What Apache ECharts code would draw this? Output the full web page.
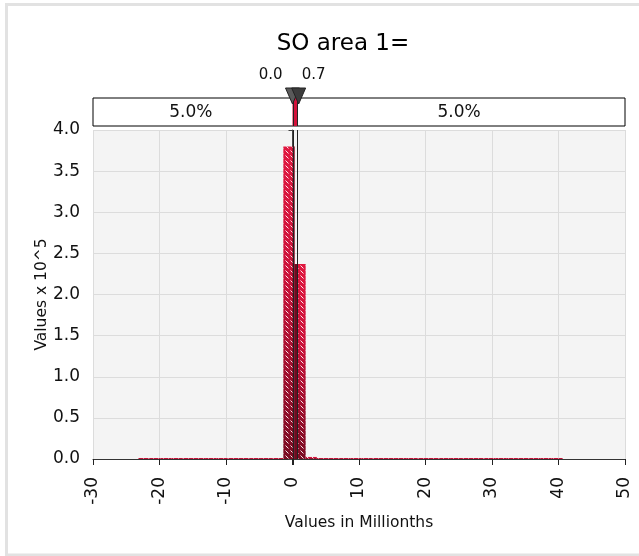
<!DOCTYPE html>
<html>
<head>
<meta charset="utf-8">
<script src="https://cdn.jsdelivr.net/npm/echarts@6/dist/echarts.min.js"></script>
<style>html,body{margin:0;padding:0;background:#fff;}#c{width:639px;height:556px;}</style>
</head>
<body>
<div id="c"></div>
<script>
// ---- data ----
const titleText = 'SO area 1=';
const binStart = -23.22;       // left edge of first bin (millionths)
const binWidth = 1.68;         // bin width (millionths)
const counts = [0.012, 0.012, 0.012, 0.012, 0.012, 0.012, 0.012, 0.012, 0.012, 0.012,
                0.012, 0.012, 0.012, 3.80, 2.37, 0.025, 0.012, 0.012, 0.012, 0.012,
                0.012, 0.012, 0.012, 0.012, 0.012, 0.012, 0.012, 0.012, 0.012, 0.012,
                0.012, 0.012, 0.012, 0.012, 0.012, 0.012, 0.012, 0.012];
const markerValues = [0.0, 0.7];
const markerLabels = ['0.0', '0.7'];
const bandLabels = ['5.0%', '5.0%'];
const xMin = -30, xMax = 50, xInterval = 10;
const yMin = 0, yMax = 4, yInterval = 0.5;

const FONT = "'DejaVu Sans', Verdana, sans-serif";

const bins = counts.map((c, i) => [binStart + i * binWidth, binStart + (i + 1) * binWidth, c]);

// hatch pattern
const pc = document.createElement('canvas');
pc.width = 5; pc.height = 5;
const g = pc.getContext('2d');
g.strokeStyle = 'rgba(255,255,255,0.9)';
g.lineWidth = 1;
g.beginPath(); g.moveTo(0.5, 0.5); g.lineTo(3.5, 3.5); g.stroke();

const chart = echarts.init(document.getElementById('c'), null, {renderer: 'canvas'});

const option = {
  animation: false,
  backgroundColor: '#ffffff',
  title: {
    text: titleText, left: 338, top: 28, textAlign: 'center',
    textStyle: {fontFamily: FONT, fontSize: 23, fontWeight: 'normal', color: '#000'}
  },
  graphic: [{
    type: 'rect', shape: {x: 6.5, y: 4.5, width: 700, height: 550.5},
    style: {fill: 'none', stroke: '#e2e2e2', lineWidth: 3}, silent: true, z: -10
  }],
  grid: [
    {left: 93, right: 14, top: 130, bottom: 97, show: true, backgroundColor: '#f4f4f4', borderWidth: 0},
    {left: 93, right: 14, top: 98, height: 28, show: true, backgroundColor: '#ffffff', borderColor: '#000', borderWidth: 1}
  ],
  xAxis: [
    {
      type: 'value', gridIndex: 0, min: xMin, max: xMax, interval: xInterval,
      name: 'Values in Millionths', nameLocation: 'middle', nameGap: 56, nameMoveOverlap: false,
      nameTextStyle: {fontFamily: FONT, fontSize: 15.5, color: '#111'},
      axisLine: {show: true, onZero: false, lineStyle: {color: '#333', width: 1}},
      axisTick: {show: true, length: 6, lineStyle: {color: '#222'}},
      axisLabel: {rotate: 90, fontFamily: FONT, fontSize: 17, color: '#111', margin: 18},
      splitLine: {show: true, lineStyle: {color: '#dcdcdc', width: 1}}
    },
    {
      type: 'value', gridIndex: 1, min: xMin, max: xMax, show: false
    }
  ],
  yAxis: [
    {
      type: 'value', gridIndex: 0, min: yMin, max: yMax, interval: yInterval,
      name: 'Values x 10^5', nameLocation: 'middle', nameGap: 43, nameMoveOverlap: false,
      nameTextStyle: {fontFamily: FONT, fontSize: 15.5, color: '#111'},
      axisLine: {show: true, lineStyle: {color: '#444', width: 1}},
      axisTick: {show: true, length: 4, lineStyle: {color: '#444'}},
      axisLabel: {fontFamily: FONT, fontSize: 17, color: '#111', margin: 13,
                  formatter: v => v.toFixed(1)},
      splitLine: {show: true, lineStyle: {color: '#dcdcdc', width: 1}}
    },
    {type: 'value', gridIndex: 1, min: 0, max: 1, show: false}
  ],
  series: [
    // histogram bars
    {
      type: 'custom', xAxisIndex: 0, yAxisIndex: 0, data: bins, z: 3,
      renderItem: function (params, api) {
        const x0 = api.value(0), x1 = api.value(1), h = api.value(2);
        const tl = api.coord([x0, h]), br = api.coord([x1, 0]);
        const shape = {x: tl[0], y: tl[1], width: br[0] - tl[0], height: Math.max(br[1] - tl[1], 1)};
        return {
          type: 'group', children: [
            {type: 'rect', shape: shape,
             style: {fill: new echarts.graphic.LinearGradient(0, 0, 0, 1, [
               {offset: 0, color: '#e0173f'}, {offset: 0.4, color: '#cc123a'}, {offset: 1, color: '#7a0b22'}])}},
            {type: 'rect', shape: shape, style: {fill: {image: pc, repeat: 'repeat'}}}
          ]
        };
      }
    },
    // dark overlay between the markers
    {
      type: 'custom', xAxisIndex: 0, yAxisIndex: 0, data: bins, z: 4,
      renderItem: function (params, api) {
        const lo = Math.max(api.value(0), markerValues[0]);
        const hi = Math.min(api.value(1), markerValues[1]);
        if (hi <= lo) return null;
        const h = api.value(2);
        const tl = api.coord([lo, h]), br = api.coord([hi, 0]);
        return {type: 'rect', shape: {x: tl[0], y: tl[1], width: br[0] - tl[0], height: br[1] - tl[1]},
                style: {fill: '#6e0a1f'}};
      }
    },
    // marker vertical lines in plot
    {
      type: 'custom', xAxisIndex: 0, yAxisIndex: 0, data: markerValues.map(v => [v]), z: 5,
      renderItem: function (params, api) {
        const a = api.coord([api.value(0), yMax]), b = api.coord([api.value(0), yMin]);
        const extra = params.dataIndex === 0 ? 6 : 0;
        return {type: 'line', shape: {x1: Math.round(a[0]) + 0.5, y1: a[1], x2: Math.round(a[0]) + 0.5, y2: b[1] + extra},
                style: {stroke: '#222', lineWidth: 1}};
      }
    },
    // band: red strip between markers
    {
      type: 'custom', xAxisIndex: 1, yAxisIndex: 1, data: [[markerValues[0], markerValues[1]]], z: 3,
      renderItem: function (params, api) {
        const tl = api.coord([api.value(0), 1]), br = api.coord([api.value(1), 0]);
        return {type: 'group', children: [
          {type: 'rect', shape: {x: tl[0], y: tl[1], width: br[0] - tl[0], height: br[1] - tl[1]}, style: {fill: '#d4103a'}},
          {type: 'line', shape: {x1: Math.round(tl[0]) + 0.5, y1: tl[1], x2: Math.round(tl[0]) + 0.5, y2: br[1]}, style: {stroke: '#222', lineWidth: 1}},
          {type: 'line', shape: {x1: Math.round(br[0]) + 0.5, y1: tl[1], x2: Math.round(br[0]) + 0.5, y2: br[1]}, style: {stroke: '#222', lineWidth: 1}}
        ]};
      }
    },
    // band labels
    {
      type: 'custom', xAxisIndex: 1, yAxisIndex: 1,
      data: [[(xMin + markerValues[0]) / 2, 0.5, 0], [(markerValues[1] + xMax) / 2, 0.5, 1]], z: 4,
      renderItem: function (params, api) {
        const p = api.coord([api.value(0), api.value(1)]);
        return {type: 'text', x: p[0] - 2, y: p[1] + 1,
                style: {text: bandLabels[api.value(2)], fill: '#111', font: '17px ' + FONT, align: 'center', verticalAlign: 'middle'}};
      }
    },
    // triangles + labels
    {
      type: 'custom', xAxisIndex: 1, yAxisIndex: 1, data: markerValues.map((v, i) => [v, i]), z: 6,
      renderItem: function (params, api) {
        const i = api.value(1);
        const p = api.coord([api.value(0), 1]);
        const cx = p[0] + (i === 0 ? 0 : 1.5), top = p[1] - 10;
        return {type: 'group', children: [
          {type: 'polygon', shape: {points: [[cx - 7, top], [cx + 7, top], [cx, top + 16]]},
           style: {fill: i === 0 ? '#5a5a5a' : '#3c3c3c', stroke: '#222', lineWidth: 1}},
          {type: 'text', x: i === 0 ? cx - 10 : cx + 3, y: top - 13,
           style: {text: markerLabels[i], fill: '#111', font: '15px ' + FONT,
                   align: i === 0 ? 'right' : 'left', verticalAlign: 'middle'}}
        ]};
      },
      clip: false
    }
  ]
};
chart.setOption(option);
</script>
</body>
</html>
